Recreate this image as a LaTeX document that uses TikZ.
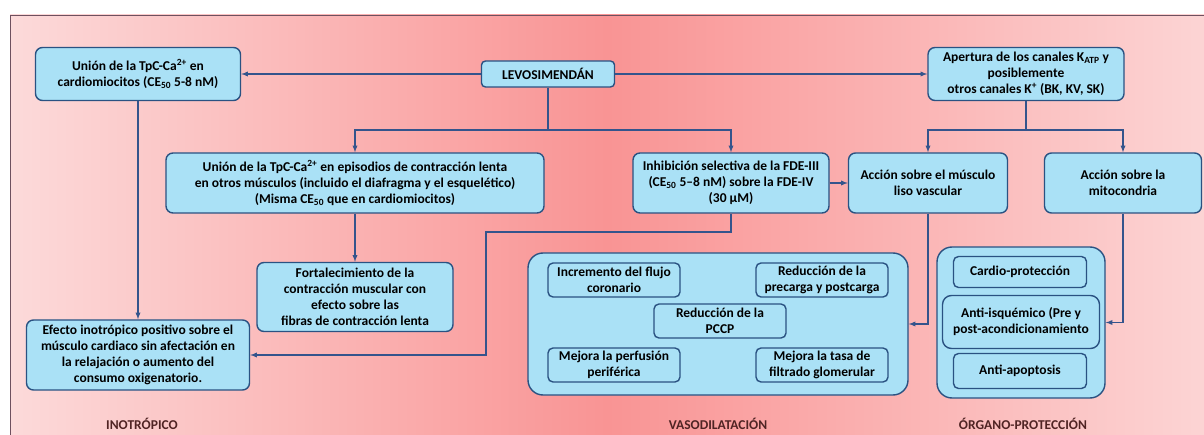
\documentclass[tikz,border=0pt]{standalone}
\usepackage{fontspec}
\setmainfont{Carlito}
\usepackage{tikz}
\usetikzlibrary{shapes,arrows,positioning}

\definecolor{boxfill}{RGB}{170,225,246}
\definecolor{boxline}{RGB}{42,82,130}
\definecolor{linecol}{RGB}{52,84,140}
\definecolor{bgleft}{RGB}{252,218,218}
\definecolor{bgmid}{RGB}{249,148,148}
\definecolor{bgright}{RGB}{252,212,212}
\definecolor{titlecol}{RGB}{80,36,36}
\definecolor{framecol}{RGB}{110,80,95}

\begin{document}
\begin{tikzpicture}[x=1pt, y=-1pt]
			\tikzstyle{Box}		= [draw=boxline, fill=boxfill, line width=1.4pt, rounded corners=7pt, align=center, inner sep=2pt, font=\fontsize{13.5}{16}\selectfont\bfseries]
			\tikzstyle{Inner}	= [Box, rounded corners=5pt, minimum width=132pt, minimum height=34pt]
			\tikzstyle{Group}	= [draw=boxline, fill=boxfill, line width=1.4pt, rounded corners=15pt]
			\tikzstyle{Link}	= [draw=linecol, line width=1.3pt, -latex]
			\tikzstyle{Plain}	= [draw=linecol, line width=1.3pt]
			\tikzstyle{Title}	= [text=titlecol, font=\fontsize{13.5}{14}\selectfont\bfseries]

			\useasboundingbox (0,0) rectangle (1204,435);
			\shade [left color=bgleft, right color=bgright, middle color=bgmid] (10,15) rectangle (1204,435);
			\draw [framecol, line width=0.8pt] (10,15) rectangle (1204,435);

			% top row
			\node (union) at (138,74) [Box, minimum width=205pt, minimum height=53pt] {Unión de la TpC-Ca\textsuperscript{2+} en\\cardiomiocitos (CE\textsubscript{50} 5-8 nM)};
			\node (levo) at (548,74) [Box, rounded corners=4pt, minimum width=133pt, minimum height=26pt] {LEVOSIMENDÁN};
			\node (apert) at (1026,74) [Box, minimum width=196pt, minimum height=53pt] {Apertura de los canales K\textsubscript{ATP} y\\posiblemente\\otros canales K\textsuperscript{+} (BK, KV, SK)};

			% second row
			\node (episod) at (355,183) [Box, minimum width=378pt, minimum height=60pt] {Unión de la TpC-Ca\textsuperscript{2+} en episodios de contracción lenta\\en otros músculos (incluido el diafragma y el esquelético)\\(Misma CE\textsubscript{50} que en cardiomiocitos)};
			\node (inhib) at (731,183) [Box, minimum width=196pt, minimum height=60pt] {Inhibición selectiva de la FDE-III\\(CE\textsubscript{50} 5–8 nM) sobre la FDE-IV\\(30 μM)};
			\node (liso) at (928,183) [Box, minimum width=159pt, minimum height=60pt] {Acción sobre el músculo\\liso vascular};
			\node (mito) at (1123,183) [Box, minimum width=157pt, minimum height=60pt] {Acción sobre la\\mitocondria};

			% lower row
			\node (fort) at (355,297) [Box, minimum width=196pt, minimum height=69pt] {Fortalecimiento de la\\contracción muscular con\\efecto sobre las\\fibras de contracción lenta};
			\node (efecto) at (138,355) [Box, minimum width=223pt, minimum height=70pt] {Efecto inotrópico positivo sobre el\\músculo cardiaco sin afectación en\\la relajación o aumento del\\consumo oxigenatorio.};

			\node (vaso) at (718,324) [Group, minimum width=380pt, minimum height=142pt] {};
			\foreach \n/\x/\y/\t in {flujo/614/280/Incremento del flujo\\coronario, precarga/822/280/Reducción de la\\precarga y postcarga, pccp/720/321/Reducción de la\\PCCP, perfus/614/365/Mejora la perfusión\\periférica, filtrado/822/365/Mejora la tasa de\\filtrado glomerular}
				\node (\n) at (\x,\y) [Inner] {\t};

			\node (organ) at (1021,322.5) [Group, minimum width=168pt, minimum height=151pt] {};
			\node (cardio) at (1020,272) [Inner, minimum width=133pt, minimum height=31pt] {Cardio-protección};
			\node (isquem) at (1021,322) [Inner, rounded corners=9pt, minimum width=157pt, minimum height=53pt] {Anti-isquémico (Pre y\\post-acondicionamiento};
			\node (apopt) at (1020,371) [Inner, minimum width=133pt, minimum height=35pt] {Anti-apoptosis};

			% connectors
			\coordinate (bus1) at (548,130);
			\coordinate (bus2) at (1026,130);
			\coordinate (elbow1) at (486,232);
			\draw [Link] (levo) -- (union);
			\draw [Link] (levo) -- (apert);
			\draw [Plain] (levo) -- (bus1);
			\draw [Link] (bus1) -| (episod);
			\draw [Link] (bus1) -| (inhib);
			\draw [Plain] (apert) -- (bus2);
			\draw [Link] (bus2) -| (liso);
			\draw [Link] (bus2) -| (mito);
			\draw [Link] (union) -- (efecto);
			\draw [Link] (episod) -- (fort);
			\draw [Link] (inhib) |- (elbow1) |- (efecto);
			\draw [Link] (inhib) -- (liso);
			\draw [Link] (liso) |- (vaso);
			\draw [Link] (mito) |- (organ);

			\foreach \n/\x/\t in {inotrop/142/INOTRÓPICO, vasodil/718/VASODILATACIÓN, organo/1023/ÓRGANO-PROTECCIÓN}
				\node (\n) at (\x,424) [Title] {\t};
		\end{tikzpicture}
\end{document}
